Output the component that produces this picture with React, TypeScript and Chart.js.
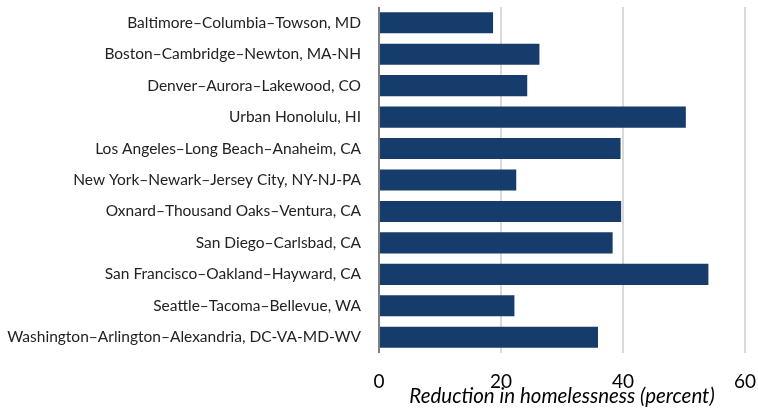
import React, { useEffect, useRef } from "react";
import { Chart, registerables } from "chart.js";

Chart.register(...registerables);

const categories = [
  "Baltimore–Columbia–Towson, MD",
  "Boston–Cambridge–Newton, MA-NH",
  "Denver–Aurora–Lakewood, CO",
  "Urban Honolulu, HI",
  "Los Angeles–Long Beach–Anaheim, CA",
  "New York–Newark–Jersey City, NY-NJ-PA",
  "Oxnard–Thousand Oaks–Ventura, CA",
  "San Diego–Carlsbad, CA",
  "San Francisco–Oakland–Hayward, CA",
  "Seattle–Tacoma–Bellevue, WA",
  "Washington–Arlington–Alexandria, DC-VA-MD-WV",
];

const reduction = [18.7, 26.3, 24.3, 50.3, 39.6, 22.5, 39.7, 38.3, 54.0, 22.2, 35.9];

const xTicks = [0, 20, 40, 60];
const xTitle = "Reduction in homelessness (percent)";

const FONT = "Lato, 'Noto Sans', sans-serif";

export default function App() {
  const ref = useRef<HTMLCanvasElement | null>(null);

  useEffect(() => {
    if (!ref.current) return;
    const chart = new Chart(ref.current, {
      type: "bar",
      data: {
        labels: categories,
        datasets: [
          {
            data: reduction,
            backgroundColor: "#163c6b",
            borderWidth: 0,
            categoryPercentage: 1,
            barPercentage: 0.67,
          },
        ],
      },
      options: {
        indexAxis: "y",
        animation: false,
        responsive: false,
        maintainAspectRatio: false,
        layout: { padding: { top: 7, right: 13, left: 0, bottom: 0 } },
        plugins: { legend: { display: false }, tooltip: { enabled: false } },
        scales: {
          x: {
            type: "linear",
            min: 0,
            max: 60,
            afterBuildTicks: (scale: any) => {
              scale.ticks = xTicks.map((v) => ({ value: v }));
            },
            afterFit: (scale: any) => {
              scale.height = 58;
              scale.paddingLeft = 0;
              scale.paddingRight = 0;
            },
            border: { display: false },
            grid: {
              drawTicks: false,
              lineWidth: 2,
              color: (ctx: any) => (ctx.tick && ctx.tick.value === 0 ? "#808080" : "#d9d9d9"),
            },
            ticks: {
              color: "#000",
              padding: 17,
              font: { family: FONT, size: 19 },
              maxRotation: 0,
            },
            title: {
              display: true,
              text: xTitle,
              color: "#000",
              padding: { top: -6, bottom: 2 },
              font: { family: FONT, size: 20.5, style: "italic" },
            },
          },
          y: {
            afterFit: (scale: any) => {
              scale.width = 379;
              scale.paddingTop = 0;
              scale.paddingBottom = 0;
            },
            border: { display: false },
            grid: { display: false, drawTicks: false },
            ticks: {
              color: "#222",
              padding: 18,
              autoSkip: false,
              font: { family: FONT, size: 15.5 },
            },
          },
        },
      },
    });
    return () => chart.destroy();
  }, []);

  return (
    <div style={{ position: "fixed", left: 0, top: 0, width: 758, height: 411, background: "#fff" }}>
      <canvas ref={ref} width={758} height={411} style={{ width: 758, height: 411, display: "block" }} />
    </div>
  );
}
